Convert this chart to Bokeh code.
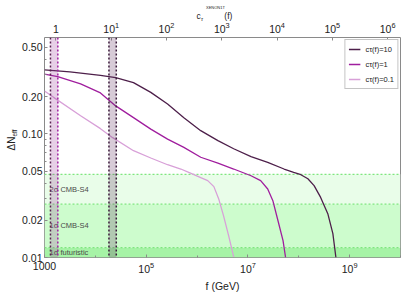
import math
from bokeh.plotting import figure
from bokeh.models import (LogAxis, FixedTicker, BoxAnnotation, Span, Label, Legend,
                          LegendItem, CustomJSTickFormatter, LogTickFormatter, Range1d, LogScale)
from bokeh.embed import file_html
from bokeh.resources import INLINE

# ---------------- data ----------------
f_c10 = [1.0e3, 3.16e3, 1.26e4, 2.51e4, 5.62e4, 1.23e5, 2.63e5, 5.50e5, 1.18e6, 2.57e6,
         5.25e6, 1.15e7, 2.45e7, 5.13e7, 7.94e7, 1.10e8, 1.51e8, 2.00e8, 2.69e8, 3.72e8,
         4.68e8, 5.37e8]
dN_c10 = [0.328, 0.316, 0.297, 0.284, 0.259, 0.216, 0.174, 0.135, 0.106, 0.088,
          0.0757, 0.0653, 0.0587, 0.0519, 0.0487, 0.0467, 0.0433, 0.0381, 0.0306, 0.0226,
          0.0156, 0.0100]

f_c1 = [1.0e3, 1.82e3, 5.13e3, 1.26e4, 2.51e4, 5.62e4, 1.23e5, 2.63e5, 5.50e5, 1.18e6,
        2.57e6, 5.25e6, 1.15e7, 1.78e7, 2.45e7, 3.09e7, 3.89e7, 4.90e7, 5.50e7]
dN_c1 = [0.303, 0.290, 0.253, 0.214, 0.168, 0.135, 0.109, 0.0906, 0.0776, 0.0646,
         0.0578, 0.0519, 0.0458, 0.0418, 0.0358, 0.0288, 0.0199, 0.0137, 0.0100]

f_c01 = [1.0e3, 1.51e3, 5.13e3, 1.26e4, 2.19e4, 5.62e4, 1.23e5, 2.63e5, 4.79e5, 7.41e5,
         1.18e6, 1.62e6, 2.14e6, 2.69e6, 3.31e6, 4.17e6, 5.25e6]
dN_c01 = [0.222, 0.197, 0.140, 0.110, 0.093, 0.073, 0.0637, 0.0562, 0.0519, 0.048,
          0.0442, 0.0418, 0.0374, 0.0294, 0.0218, 0.0150, 0.0101]

series_labels = ["cτ(f)=10", "cτ(f)=1", "cτ(f)=0.1"]

# CMB-S4 sensitivity levels (upper edges of the green bands)
cmb_levels = [0.047, 0.027, 0.012]
cmb_labels = ["2σ CMB-S4", "1σ CMB-S4", "1σ futuristic"]

# vertical bands in f (GeV)
band_magenta = [1.31e3, 1.83e3]
band_gray = [1.85e4, 2.58e4]

# axis ticks
x_ticks = [1e3, 1e5, 1e7, 1e9]
x_minor = [1e4, 1e6, 1e8, 1e10]
y_ticks = [0.01, 0.02, 0.05, 0.1, 0.2, 0.5]
y_tick_labels = ["0.01", "0.02", "0.05", "0.10", "0.20", "0.50"]
y_minor = [0.03, 0.04, 0.06, 0.07, 0.08, 0.09, 0.3, 0.4]
# top axis: c_tau^XENON1T(f) values at the left/right edges of the f range
ctau_range = [0.622, 1.71e6]
ctau_ticks = [1, 10, 100, 1e3, 1e4, 1e5, 1e6]

# ---------------- styling ----------------
FONT = "Liberation Sans"
C10, C1, C01 = "#4d1f4a", "#a01e9e", "#d8a0d8"

p = figure(frame_width=356, frame_height=220, x_axis_type="log", y_axis_type="log",
           x_range=Range1d(1e3, 1e10), y_range=Range1d(0.01, 0.6),
           output_backend="svg", toolbar_location=None,
           min_border_left=44, min_border_right=8, min_border_top=37, min_border_bottom=37)
p.extra_x_ranges = {"ctau": Range1d(ctau_range[0], ctau_range[1])}
p.extra_x_scales = {"ctau": LogScale()}
p.xgrid.visible = False
p.ygrid.visible = False
p.outline_line_color = "#8a8a8a"
p.background_fill_color = "white"

fmt_code = """
for (let i = 0; i < tv.length; i++) {
  if (Math.abs(Math.log10(tv[i]) - Math.log10(tick)) < 1e-6) return tl[i];
}
return "";
"""

def style_axis(ax, standoff):
    ax.axis_line_color = None
    ax.major_tick_line_color = "#8a8a8a"
    ax.minor_tick_line_color = "#8a8a8a"
    ax.major_tick_in = 3
    ax.major_tick_out = 0
    ax.minor_tick_in = 2
    ax.minor_tick_out = 0
    ax.major_label_text_font = FONT
    ax.major_label_text_font_size = "10.5px"
    ax.major_label_text_color = "#222222"
    ax.major_label_standoff = standoff

xa = p.xaxis[0]
xa.ticker = FixedTicker(ticks=x_ticks, minor_ticks=x_minor)
xa.formatter = LogTickFormatter()
xa.major_label_overrides = {1000: "1000"}
style_axis(xa, 4)
xa.axis_label = "f (GeV)"
xa.axis_label_text_font = FONT
xa.axis_label_text_font_size = "10.5px"
xa.axis_label_text_font_style = "normal"
xa.axis_label_text_color = "#222222"
xa.axis_label_standoff = 4

ya = p.yaxis[0]
ya.ticker = FixedTicker(ticks=y_ticks, minor_ticks=y_minor)
ya.formatter = CustomJSTickFormatter(args=dict(tv=y_ticks, tl=y_tick_labels), code=fmt_code)
style_axis(ya, 2)

top = LogAxis(x_range_name="ctau", ticker=FixedTicker(ticks=ctau_ticks, minor_ticks=[]),
              formatter=LogTickFormatter())
top.major_label_overrides = {1: "1"}
style_axis(top, 5)
p.add_layout(top, "above")

# ---------------- green bands ----------------
band_colors = ["#e9fde9", "#cdfccd", "#a6f3a6"]
lower = [cmb_levels[1], cmb_levels[2], 0.01]
for top_v, bot_v, col in zip(cmb_levels, lower, band_colors):
    p.add_layout(BoxAnnotation(bottom=bot_v, top=top_v, fill_color=col, fill_alpha=1.0,
                               line_color=None, level="underlay"))
for lv in cmb_levels:
    p.add_layout(Span(location=lv, dimension="width", line_color="#7fe67f",
                      line_dash="2 2", line_width=1.2, level="underlay"))
for lv, lo, txt in zip(cmb_levels, lower, cmb_labels):
    p.add_layout(Label(x=5, x_units="screen", y=math.sqrt(lv * lo), text=txt,
                       text_font=FONT, text_font_size="7.5px", text_color="#4a4a4a",
                       text_baseline="middle", text_align="left"))

# ---------------- vertical bands ----------------
p.add_layout(BoxAnnotation(left=band_magenta[0], right=band_magenta[1], fill_color="#a040a0",
                           fill_alpha=0.25, line_color=None))
p.add_layout(BoxAnnotation(left=band_gray[0], right=band_gray[1], fill_color="#603060",
                           fill_alpha=0.25, line_color=None))
for loc, col in [(band_magenta[0], "#5a2050"), (band_magenta[1], "#a020a0"),
                 (band_gray[0], "#3a1a3a"), (band_gray[1], "#3a1a3a")]:
    p.add_layout(Span(location=loc, dimension="height", line_color=col,
                      line_dash="2 2", line_width=1.5))

# ---------------- curves ----------------
r10 = p.line(f_c10, dN_c10, line_color=C10, line_width=1.3)
r1 = p.line(f_c1, dN_c1, line_color=C1, line_width=1.3)
r01 = p.line(f_c01, dN_c01, line_color=C01, line_width=1.3)

legend = Legend(items=[LegendItem(label=series_labels[0], renderers=[r10]),
                       LegendItem(label=series_labels[1], renderers=[r1]),
                       LegendItem(label=series_labels[2], renderers=[r01])],
                location="top_right", margin=2, padding=3, spacing=3,
                glyph_width=12, glyph_height=12, label_height=12, label_standoff=5,
                label_text_font=FONT, label_text_font_size="7.5px", label_text_color="#222222",
                border_line_color="#8a8a8a", border_line_width=1, background_fill_alpha=1.0)
p.add_layout(legend)

# ---------------- axis titles with sub/superscripts (canvas-positioned labels) ----------------
def lab(place, x, y, text, size, **kw):
    common = dict(text=text, text_font=FONT, text_font_size=size, text_color="#222222", **kw)
    try:
        l = Label(x=x, y=y, x_units="canvas", y_units="canvas", **common)
    except Exception:
        l = Label(x=x - 44, y=257 - y, x_units="screen", y_units="screen", **common)
    p.add_layout(l, place)

NB = "\u00a0"
# left: ΔN_eff rotated
lab("left", 11, 150, "ΔN", "10px", angle=math.pi / 2, text_align="left", text_baseline="middle")
lab("left", 13.5, 136, "eff", "6.5px", angle=math.pi / 2, text_align="left", text_baseline="middle")
# top: c_τ^XENON1T(f)
lab("above", 196, 15, "c" + NB * 10 + "(f)", "8.5px", text_align="left", text_baseline="alphabetic")
lab("above", 205.5, 6.8, "XENON1T", "4px", text_align="left", text_baseline="alphabetic")
lab("right", 200.5, 18, "τ", "5.5px", text_font_style="italic", text_align="left", text_baseline="alphabetic")

open("out.html", "w").write(file_html(p, INLINE))
